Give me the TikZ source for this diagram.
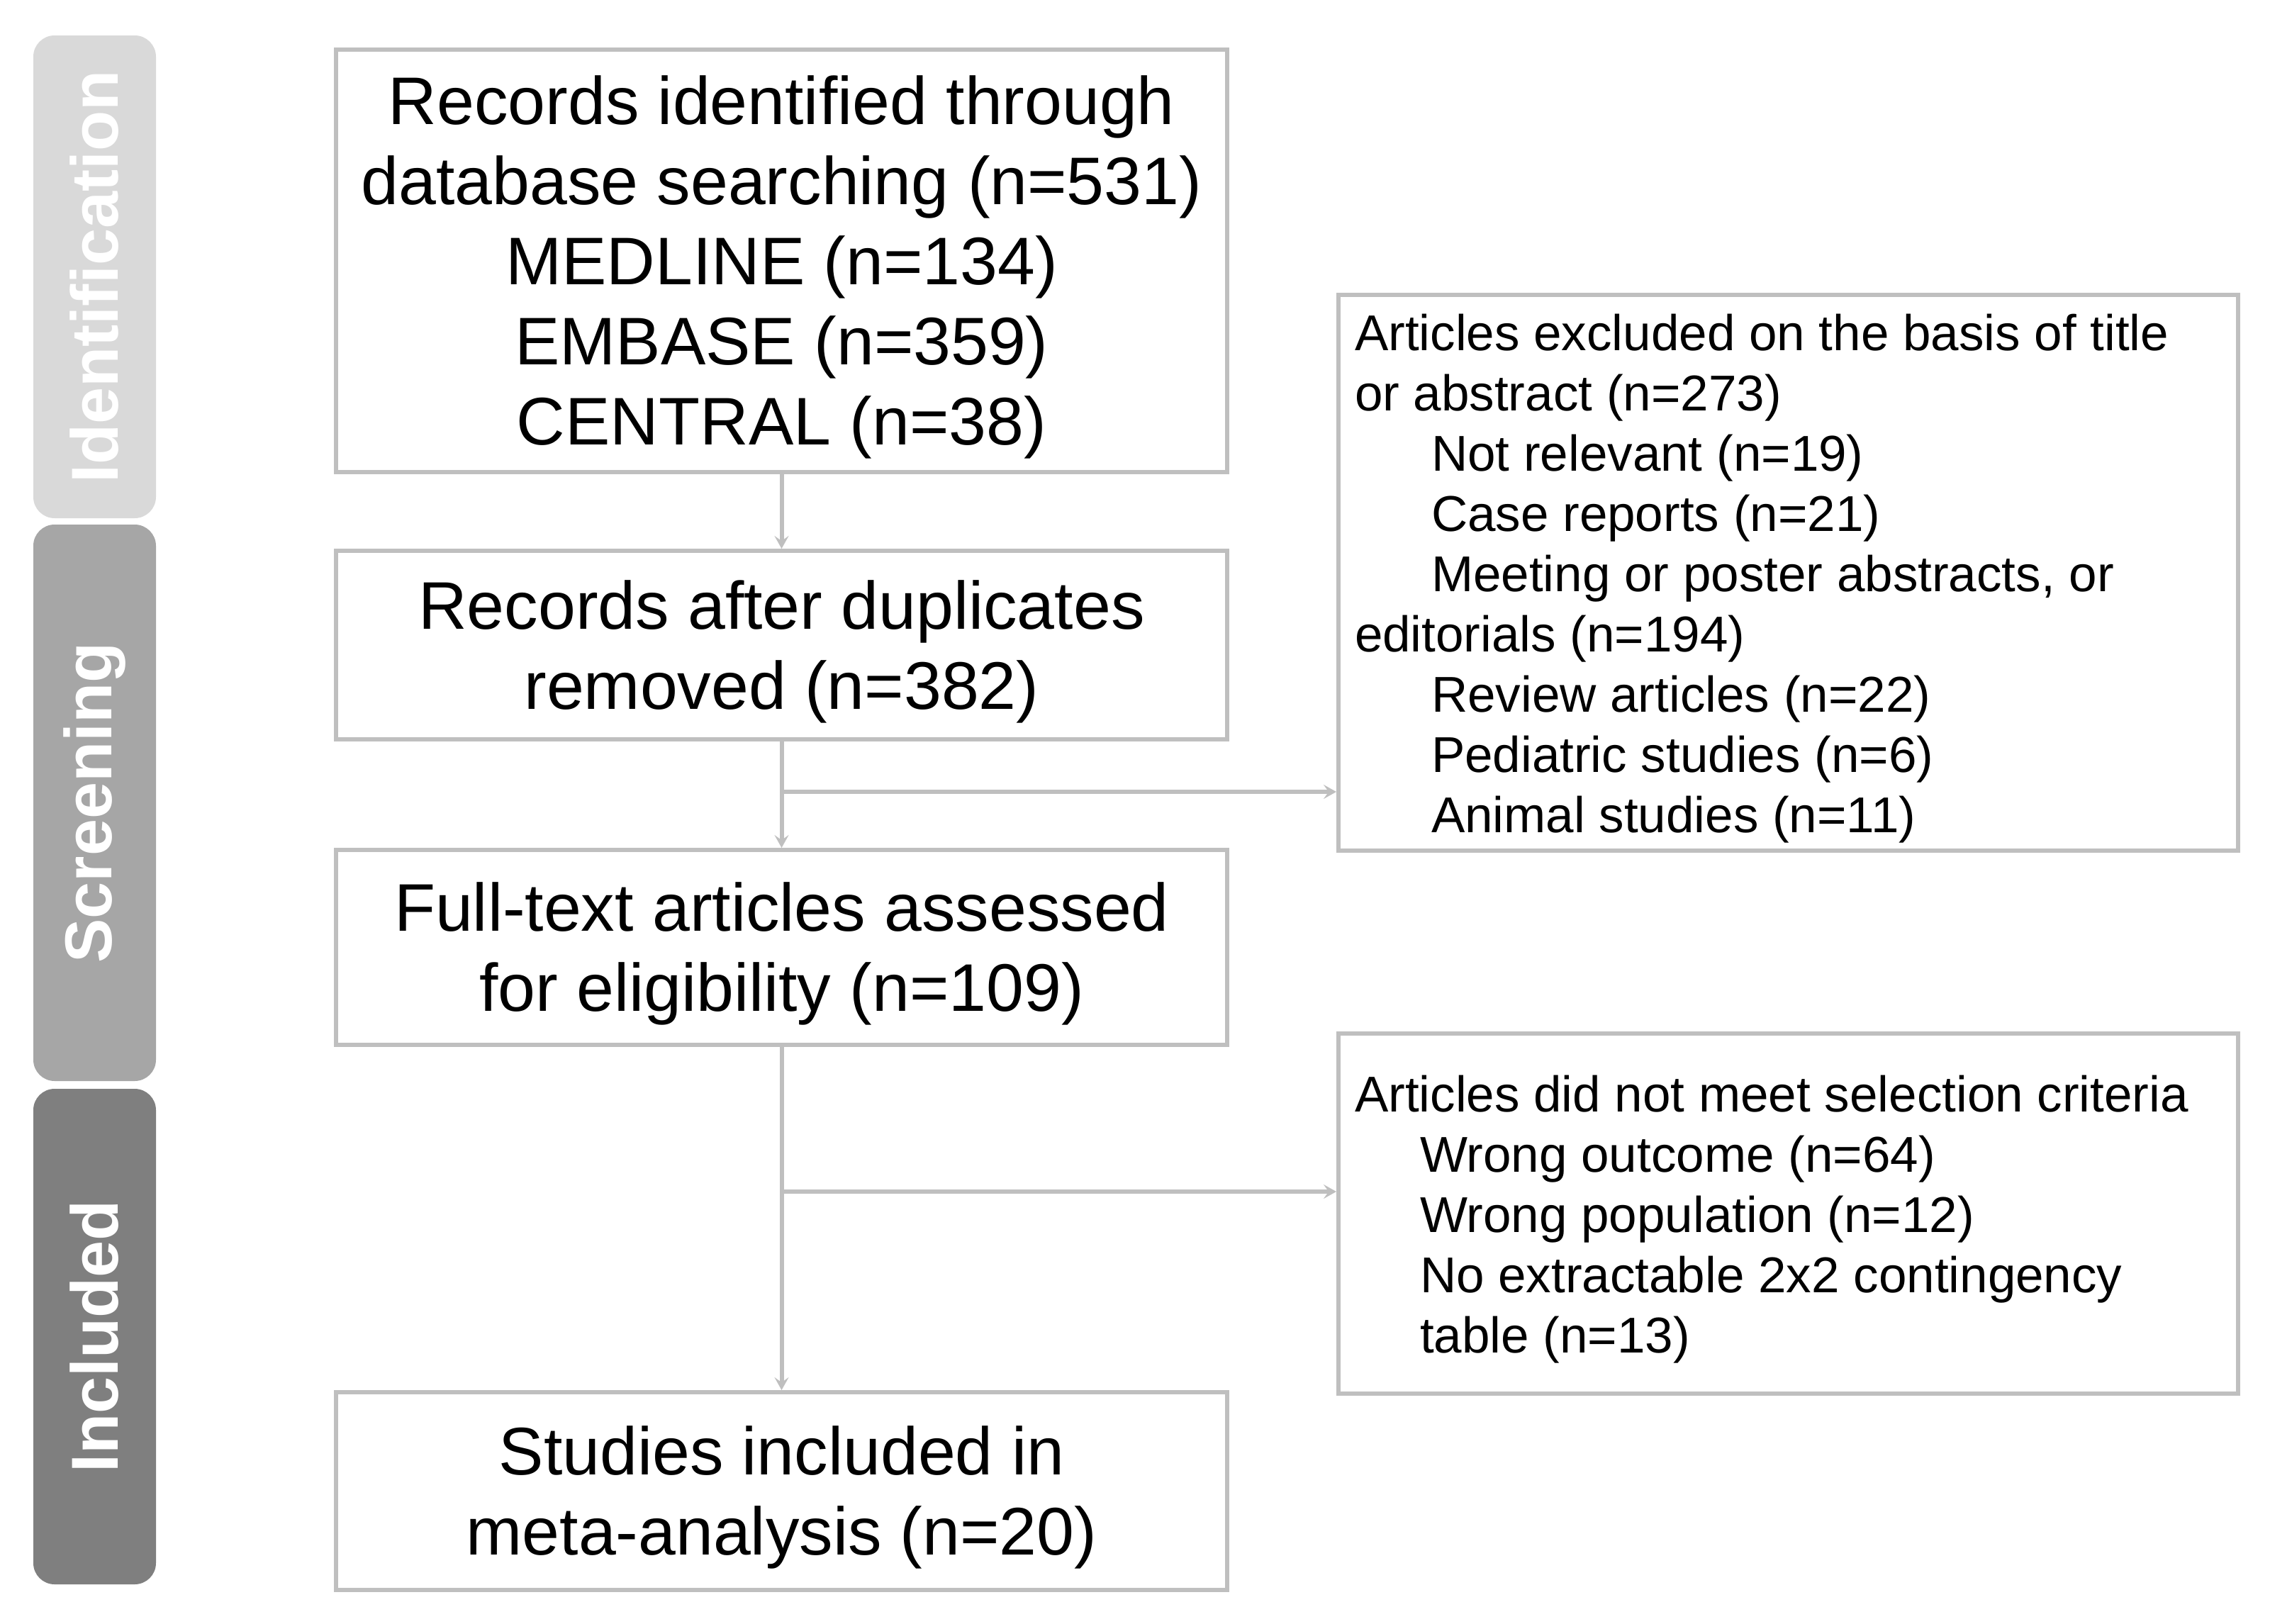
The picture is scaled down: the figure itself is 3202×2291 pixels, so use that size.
\documentclass[tikz,border=0pt]{standalone}
\usepackage{fontspec}
\setmainfont{Liberation Sans}
\usetikzlibrary{arrows.meta}
\definecolor{bordergray}{RGB}{191,191,191}
\definecolor{tabA}{RGB}{217,217,217}
\definecolor{tabB}{RGB}{166,166,166}
\definecolor{tabC}{RGB}{127,127,127}
\tikzset{
  mainbox/.style={draw=bordergray, line width=1.5pt, fill=white, align=flush center,
    text width=314.25pt, inner sep=0pt,
    font=\fontsize{23.75pt}{28.25pt}\selectfont,
    execute at begin node={\rule{0pt}{21.8pt}}},
  sidebox/.style={draw=bordergray, line width=1.5pt, fill=white, align=flush left,
    text width=305.75pt, inner xsep=5.75pt, inner ysep=0pt,
    font=\fontsize{17.75pt}{21.25pt}\selectfont,
    execute at begin node={\rule{0pt}{16.9pt}}},
  tab/.style={rounded corners=7.5pt, rotate=90, text=white, inner sep=0pt,
    minimum height=43.25pt,
    font=\fontsize{23.4pt}{28pt}\selectfont\bfseries},
  conn/.style={draw=bordergray, line width=1.5pt},
  arr/.style={conn, -{Stealth[length=4.5pt,width=5pt,inset=1.8pt]}}
}
\begin{document}
\begin{tikzpicture}[x=0.25pt,y=-0.25pt]
\useasboundingbox (0,0) rectangle (3202,2291);
% side tabs
\node[tab, fill=tabA, minimum width=170.25pt] (tid) at (133.5,390.5) {Identification};
\node[tab, fill=tabB, minimum width=196.25pt] (tsc) at (133.5,1132.5) {Screening};
\node[tab, fill=tabC, minimum width=174.75pt] (tin) at (133.5,1885.5) {Included};
% main boxes
\node[mainbox, minimum height=149pt] (A) at (1102.5,368)
  {Records identified through\\database searching (n=531)\\MEDLINE (n=134)\\EMBASE (n=359)\\CENTRAL (n=38)};
\node[mainbox, minimum height=66.5pt] (B) at (1102.5,910)
  {Records after duplicates\\removed (n=382)};
\node[mainbox, minimum height=68.75pt] (C) at (1102.5,1336.5)
  {Full-text articles assessed\\for eligibility (n=109)};
\node[mainbox, minimum height=69.75pt] (D) at (1102.5,2103.5)
  {Studies included in\\meta-analysis (n=20)};
% side boxes
\node[sidebox, minimum height=196pt] (E) at (2522.5,808)
  {Articles excluded on the basis of title\\or abstract (n=273)\\
   \hspace*{27pt}Not relevant (n=19)\\
   \hspace*{27pt}Case reports (n=21)\\
   \hspace*{27pt}Meeting or poster abstracts, or\\
   editorials (n=194)\\
   \hspace*{27pt}Review articles (n=22)\\
   \hspace*{27pt}Pediatric studies (n=6)\\
   \hspace*{27pt}Animal studies (n=11)};
\node[sidebox, minimum height=127pt] (F) at (2522.5,1712)
  {Articles did not meet selection criteria\\
   \hspace*{23pt}Wrong outcome (n=64)\\
   \hspace*{23pt}Wrong population (n=12)\\
   \hspace*{23pt}No extractable 2x2 contingency\\
   \hspace*{23pt}table (n=13)};
% connectors
\coordinate (j1) at (1102.5,1117);
\coordinate (j2) at (1102.5,1681);
\draw[arr] (A.south) -- (B.north);
\draw[arr] (B.south) -- (C.north);
\draw[arr] (C.south) -- (D.north);
\draw[arr] (j1) -- (j1 -| E.west);
\draw[arr] (j2) -- (j2 -| F.west);
\end{tikzpicture}
\end{document}
